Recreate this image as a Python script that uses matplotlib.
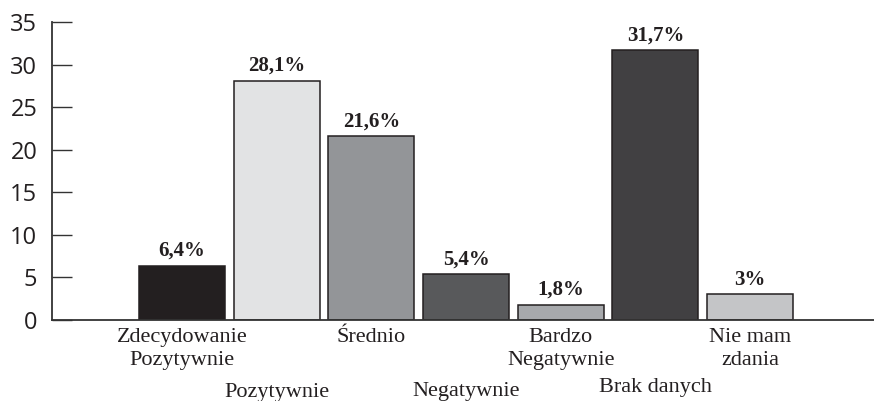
import matplotlib
matplotlib.use("Agg")
import matplotlib.pyplot as plt

# Survey answers and their shares (%)
categories = ["Zdecydowanie\nPozytywnie", "Pozytywnie", "Średnio", "Negatywnie",
              "Bardzo\nNegatywnie", "Brak danych", "Nie mam\nzdania"]
values = [6.4, 28.1, 21.6, 5.4, 1.8, 31.7, 3.0]
value_labels = ["6,4%", "28,1%", "21,6%", "5,4%", "1,8%", "31,7%", "3%"]
y_ticks = [0, 5, 10, 15, 20, 25, 30, 35]

colors = ["#231f20", "#e2e3e4", "#939598", "#58595b", "#a7a9ac", "#414042", "#c4c5c7"]
# vertical drop (in points) of each category label below the baseline
label_drop = [6.0, 45.0, 6.0, 44.5, 6.0, 41.5, 6.0]

W, H, DPI = 874, 401, 100
fig = plt.figure(figsize=(W / DPI, H / DPI), dpi=DPI)
ax = fig.add_axes([52 / W, (H - 320) / H, (W - 52) / W, 298 / H])

x = list(range(len(values)))
ax.bar(x, values, width=0.91, color=colors, edgecolor="#231f20", linewidth=1.1, zorder=2)

ax.set_xlim(-1.374, 7.31)
ax.set_ylim(0, 35)
ax.set_yticks(y_ticks)
ax.set_yticklabels([str(t) for t in y_ticks], fontfamily="Open Sans", fontsize=17, color="#231f20")
ax.tick_params(axis="y", direction="in", length=14.4, width=1.0, color="#333333", pad=10.5)
ax.set_xticks([])

for side in ("top", "right"):
    ax.spines[side].set_visible(False)
ax.spines["left"].set_color("#333333")
ax.spines["left"].set_linewidth(1.3)
ax.spines["bottom"].set_color("#333333")
ax.spines["bottom"].set_linewidth(1.3)

serif = ["Liberation Serif", "DejaVu Serif"]

for xi, v, lab in zip(x, values, value_labels):
    ax.annotate(lab, xy=(xi, v), xytext=(0, 7), textcoords="offset points",
                ha="center", va="baseline", fontfamily=serif, fontweight="bold",
                fontsize=15, color="#231f20")

for xi, cat, drop in zip(x, categories, label_drop):
    ax.annotate(cat, xy=(xi, 0), xytext=(0, -drop), textcoords="offset points",
                ha="center", va="top", fontfamily=serif, fontsize=16,
                color="#231f20", linespacing=1.28, multialignment="center",
                annotation_clip=False)

fig.savefig("out.png", dpi=DPI)
